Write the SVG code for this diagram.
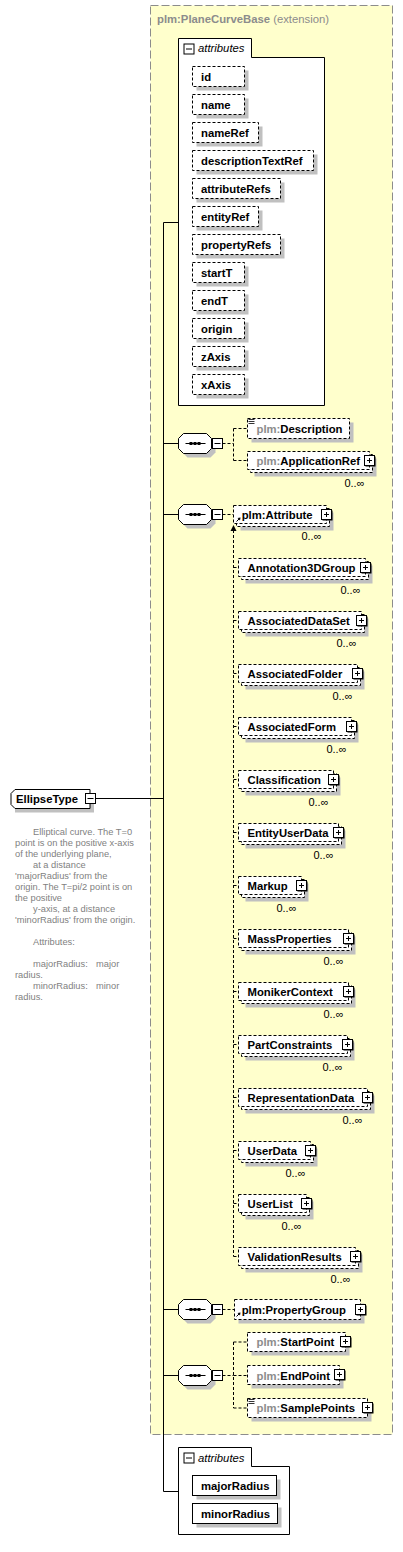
<svg xmlns="http://www.w3.org/2000/svg" xmlns:xlink="http://www.w3.org/1999/xlink" width="403" height="1552" viewBox="0 0 403 1552">
<style>
.ext{fill:#ffffcc;stroke:#8c8c8c;stroke-dasharray:8 3}
.sh{fill:#c0c0c0}
.bd{fill:#fff;stroke:#000;stroke-dasharray:3 2}
.bs{fill:#fff;stroke:#000}
.t{font-family:"Liberation Sans",Arial,sans-serif;font-weight:bold;font-size:11.3px;fill:#000}
.g{fill:#8c8c8c}
.o{font-family:"Liberation Sans",Arial,sans-serif;font-size:11px;fill:#000}
.it{font-family:"Liberation Sans",Arial,sans-serif;font-style:italic;font-size:11.3px;fill:#000}
.ann{font-family:"Liberation Sans",Arial,sans-serif;font-size:9.3px;fill:#7f7f7f}
.c{stroke:#000;fill:none}
.d{stroke:#000;fill:none;stroke-dasharray:3 2}
</style>
<defs>
<g id="plus"><rect x="1" y="1" width="10" height="10" fill="#000"/><rect x="0" y="0" width="10" height="10" fill="#fff" stroke="#000"/><path d="M2.5 5H7.5M5 2.5V7.5" stroke="#000"/></g>
<g id="minus"><rect x="0" y="0" width="10" height="10" fill="#fff" stroke="#000"/><path d="M2 5H8" stroke="#000"/></g>
<g id="seq"><polygon points="9,4 32,4 37,9 37,19 32,24 9,24 4,19 4,9" class="sh"/><polygon points="5,0 28,0 33,5 33,15 28,20 5,20 0,15 0,5" class="bs"/><path d="M7 10H27" stroke="#000"/><rect x="11" y="8.5" width="3" height="3"/><rect x="15" y="8.5" width="3" height="3"/><rect x="19" y="8.5" width="3" height="3"/></g>
<g id="doc"><path d="M1 1.5H7M1 3.5H7M1 5.5H7" stroke="#000" stroke-width="0.8"/></g>
<g id="ref"><path d="M1.5 4.5L5 1" stroke="#000"/><path d="M5.5 0.5L2.5 1L5 3.5Z" fill="#000"/></g>
</defs>

<g id="extension">
<rect x="150.5" y="5.5" width="242" height="1429" class="ext"/>
<text x="157" y="23" class="t g">plm:PlaneCurveBase <tspan font-weight="normal">(extension)</tspan></text>
</g>

<g id="connectors">
<path class="c" d="M95.5 798.5H163.5M163.5 222.5V1491.5M163.5 222.5H178.5M163.5 443.5H178.5M163.5 514.5H178.5M163.5 1309.5H178.5M163.5 1375.5H178.5M163.5 1491.5H178.5"/>
<path class="d" d="M222.5 443.5H233.5M233.5 428.5V460.5M233.5 428.5H247.5M233.5 460.5H247.5"/>
<path class="d" d="M222.5 514.5H233.5"/>
<path class="d" d="M233.5 530V1256.5"/>
<polygon points="233.5,525 230.5,531 236.5,531" fill="#000"/>
<path class="d" d="M233.5 567.5H238.5M233.5 620.5H238.5M233.5 673.5H238.5M233.5 726.5H238.5M233.5 779.5H238.5M233.5 832.5H238.5M233.5 885.5H238.5M233.5 938.5H238.5M233.5 991.5H238.5M233.5 1044.5H238.5M233.5 1097.5H238.5M233.5 1150.5H238.5M233.5 1203.5H238.5M233.5 1256.5H238.5"/>
<path class="d" d="M222.5 1309.5H234.5"/>
<path class="d" d="M222.5 1375.5H233.5M233.5 1342V1408M233.5 1342H247.5M233.5 1375.5H247.5M233.5 1408H247.5"/>
</g>

<g id="EllipseType">
<polygon points="19,793.5 94,793.5 94,812.5 15,812.5 15,797.5" class="sh"/>
<polygon points="15,789.5 90,789.5 90,808.5 15,808.5 11,804.5 11,793.5" class="bs"/>
<text x="16" y="802.5" class="t">EllipseType</text>
<use xlink:href="#minus" x="85.5" y="793.5"/>
</g>

<g id="annotation">
<text class="ann">
<tspan x="33" y="835">Elliptical curve. The T=0</tspan>
<tspan x="15" y="846">point is on the positive x-axis</tspan>
<tspan x="15" y="857">of the underlying plane,</tspan>
<tspan x="33" y="868">at a distance</tspan>
<tspan x="15" y="879">'majorRadius' from the</tspan>
<tspan x="15" y="890">origin. The T=pi/2 point is on</tspan>
<tspan x="15" y="901">the positive</tspan>
<tspan x="33" y="912">y-axis, at a distance</tspan>
<tspan x="15" y="923">'minorRadius' from the origin.</tspan>
<tspan x="33" y="945">Attributes:</tspan>
<tspan x="33" y="967">majorRadius:</tspan><tspan x="96" y="967">major</tspan>
<tspan x="15" y="978">radius.</tspan>
<tspan x="33" y="989">minorRadius:</tspan><tspan x="96" y="989">minor</tspan>
<tspan x="15" y="1000">radius.</tspan>
</text>
</g>

<g id="attributes-base">
<path d="M178.5 38.5H251.5V57.5H324.5V405.5H178.5Z" class="bs"/>
<use xlink:href="#minus" x="184" y="44"/>
<text x="198" y="52" class="it">attributes</text>
<g id="attr-id"><rect x="196.5" y="70.5" width="52" height="20" class="sh"/><rect x="192.5" y="66.5" width="52" height="20" class="bd"/><text x="201" y="80.5" class="t">id</text></g>
<g id="attr-name"><rect x="196.5" y="98.5" width="52" height="20" class="sh"/><rect x="192.5" y="94.5" width="52" height="20" class="bd"/><text x="201" y="108.5" class="t">name</text></g>
<g id="attr-nameRef"><rect x="196.5" y="126.5" width="66" height="20" class="sh"/><rect x="192.5" y="122.5" width="66" height="20" class="bd"/><text x="201" y="136.5" class="t">nameRef</text></g>
<g id="attr-descriptionTextRef"><rect x="196.5" y="154.5" width="121" height="20" class="sh"/><rect x="192.5" y="150.5" width="121" height="20" class="bd"/><text x="201" y="164.5" class="t">descriptionTextRef</text></g>
<g id="attr-attributeRefs"><rect x="196.5" y="182.5" width="88" height="20" class="sh"/><rect x="192.5" y="178.5" width="88" height="20" class="bd"/><text x="201" y="192.5" class="t">attributeRefs</text></g>
<g id="attr-entityRef"><rect x="196.5" y="210.5" width="66" height="20" class="sh"/><rect x="192.5" y="206.5" width="66" height="20" class="bd"/><text x="201" y="220.5" class="t">entityRef</text></g>
<g id="attr-propertyRefs"><rect x="196.5" y="238.5" width="88" height="20" class="sh"/><rect x="192.5" y="234.5" width="88" height="20" class="bd"/><text x="201" y="248.5" class="t">propertyRefs</text></g>
<g id="attr-startT"><rect x="196.5" y="266.5" width="52" height="20" class="sh"/><rect x="192.5" y="262.5" width="52" height="20" class="bd"/><text x="201" y="276.5" class="t">startT</text></g>
<g id="attr-endT"><rect x="196.5" y="294.5" width="52" height="20" class="sh"/><rect x="192.5" y="290.5" width="52" height="20" class="bd"/><text x="201" y="304.5" class="t">endT</text></g>
<g id="attr-origin"><rect x="196.5" y="322.5" width="52" height="20" class="sh"/><rect x="192.5" y="318.5" width="52" height="20" class="bd"/><text x="201" y="332.5" class="t">origin</text></g>
<g id="attr-zAxis"><rect x="196.5" y="350.5" width="52" height="20" class="sh"/><rect x="192.5" y="346.5" width="52" height="20" class="bd"/><text x="201" y="360.5" class="t">zAxis</text></g>
<g id="attr-xAxis"><rect x="196.5" y="378.5" width="52" height="20" class="sh"/><rect x="192.5" y="374.5" width="52" height="20" class="bd"/><text x="201" y="388.5" class="t">xAxis</text></g>
</g>

<g id="seq1"><use xlink:href="#seq" x="178.5" y="433.5"/><use xlink:href="#minus" x="212.5" y="438.5"/></g>
<g id="Description"><rect x="251.5" y="422.5" width="102" height="20" class="sh"/><rect x="247.5" y="418.5" width="102" height="20" class="bd"/><use xlink:href="#doc" x="247.5" y="418"/><text x="256.5" y="432.5" class="t"><tspan class="g">plm:</tspan>Description</text></g>
<g id="ApplicationRef"><rect x="254.5" y="458.5" width="122" height="18" class="sh"/><rect x="250.5" y="454.5" width="122" height="18" class="bd"/><rect x="247.5" y="451.5" width="122" height="18" class="bd"/><text x="256.5" y="464.5" class="t"><tspan class="g">plm:</tspan>ApplicationRef</text><use xlink:href="#plus" x="364.5" y="455.5"/><text x="364.5" y="487" class="o" text-anchor="end">0..∞</text></g>

<g id="seq2"><use xlink:href="#seq" x="178.5" y="504.5"/><use xlink:href="#minus" x="212.5" y="509.5"/></g>
<g id="Attribute"><rect x="240.5" y="512.5" width="93" height="18" class="sh"/><rect x="236.5" y="508.5" width="93" height="18" class="bd"/><rect x="233.5" y="505.5" width="93" height="18" class="bd"/><use xlink:href="#ref" x="235" y="517"/><text x="241.7" y="518.5" class="t">plm:Attribute</text><use xlink:href="#plus" x="321.5" y="509.5"/><text x="321.5" y="540" class="o" text-anchor="end">0..∞</text></g>

<g id="Annotation3DGroup"><rect x="245.5" y="565.5" width="127" height="18" class="sh"/><rect x="241.5" y="561.5" width="127" height="18" class="bd"/><rect x="238.5" y="558.5" width="127" height="18" class="bd"/><text x="247.5" y="571.5" class="t">Annotation3DGroup</text><use xlink:href="#plus" x="360.5" y="562.5"/><text x="360.5" y="593.5" class="o" text-anchor="end">0..∞</text></g>
<g id="AssociatedDataSet"><rect x="245.5" y="618.5" width="123" height="18" class="sh"/><rect x="241.5" y="614.5" width="123" height="18" class="bd"/><rect x="238.5" y="611.5" width="123" height="18" class="bd"/><text x="247.5" y="624.5" class="t">AssociatedDataSet</text><use xlink:href="#plus" x="356.5" y="615.5"/><text x="356.5" y="646.5" class="o" text-anchor="end">0..∞</text></g>
<g id="AssociatedFolder"><rect x="245.5" y="671.5" width="119" height="18" class="sh"/><rect x="241.5" y="667.5" width="119" height="18" class="bd"/><rect x="238.5" y="664.5" width="119" height="18" class="bd"/><text x="247.5" y="677.5" class="t">AssociatedFolder</text><use xlink:href="#plus" x="352.5" y="668.5"/><text x="352.5" y="699.5" class="o" text-anchor="end">0..∞</text></g>
<g id="AssociatedForm"><rect x="245.5" y="724.5" width="113" height="18" class="sh"/><rect x="241.5" y="720.5" width="113" height="18" class="bd"/><rect x="238.5" y="717.5" width="113" height="18" class="bd"/><text x="247.5" y="730.5" class="t">AssociatedForm</text><use xlink:href="#plus" x="346.5" y="721.5"/><text x="346.5" y="752.5" class="o" text-anchor="end">0..∞</text></g>
<g id="Classification"><rect x="245.5" y="777.5" width="95" height="18" class="sh"/><rect x="241.5" y="773.5" width="95" height="18" class="bd"/><rect x="238.5" y="770.5" width="95" height="18" class="bd"/><text x="247.5" y="783.5" class="t">Classification</text><use xlink:href="#plus" x="328.5" y="774.5"/><text x="328.5" y="805.5" class="o" text-anchor="end">0..∞</text></g>
<g id="EntityUserData"><rect x="245.5" y="830.5" width="100" height="18" class="sh"/><rect x="241.5" y="826.5" width="100" height="18" class="bd"/><rect x="238.5" y="823.5" width="100" height="18" class="bd"/><text x="247.5" y="836.5" class="t">EntityUserData</text><use xlink:href="#plus" x="333.5" y="827.5"/><text x="333.5" y="858.5" class="o" text-anchor="end">0..∞</text></g>
<g id="Markup"><rect x="245.5" y="883.5" width="63" height="18" class="sh"/><rect x="241.5" y="879.5" width="63" height="18" class="bd"/><rect x="238.5" y="876.5" width="63" height="18" class="bd"/><text x="247.5" y="889.5" class="t">Markup</text><use xlink:href="#plus" x="296.5" y="880.5"/><text x="296.5" y="911.5" class="o" text-anchor="end">0..∞</text></g>
<g id="MassProperties"><rect x="245.5" y="936.5" width="110" height="18" class="sh"/><rect x="241.5" y="932.5" width="110" height="18" class="bd"/><rect x="238.5" y="929.5" width="110" height="18" class="bd"/><text x="247.5" y="942.5" class="t">MassProperties</text><use xlink:href="#plus" x="343.5" y="933.5"/><text x="343.5" y="964.5" class="o" text-anchor="end">0..∞</text></g>
<g id="MonikerContext"><rect x="245.5" y="989.5" width="110" height="18" class="sh"/><rect x="241.5" y="985.5" width="110" height="18" class="bd"/><rect x="238.5" y="982.5" width="110" height="18" class="bd"/><text x="247.5" y="995.5" class="t">MonikerContext</text><use xlink:href="#plus" x="343.5" y="986.5"/><text x="343.5" y="1017.5" class="o" text-anchor="end">0..∞</text></g>
<g id="PartConstraints"><rect x="245.5" y="1042.5" width="109" height="18" class="sh"/><rect x="241.5" y="1038.5" width="109" height="18" class="bd"/><rect x="238.5" y="1035.5" width="109" height="18" class="bd"/><text x="247.5" y="1048.5" class="t">PartConstraints</text><use xlink:href="#plus" x="342.5" y="1039.5"/><text x="342.5" y="1070.5" class="o" text-anchor="end">0..∞</text></g>
<g id="RepresentationData"><rect x="245.5" y="1095.5" width="129" height="18" class="sh"/><rect x="241.5" y="1091.5" width="129" height="18" class="bd"/><rect x="238.5" y="1088.5" width="129" height="18" class="bd"/><text x="247.5" y="1101.5" class="t">RepresentationData</text><use xlink:href="#plus" x="362.5" y="1092.5"/><text x="362.5" y="1123.5" class="o" text-anchor="end">0..∞</text></g>
<g id="UserData"><rect x="245.5" y="1148.5" width="72" height="18" class="sh"/><rect x="241.5" y="1144.5" width="72" height="18" class="bd"/><rect x="238.5" y="1141.5" width="72" height="18" class="bd"/><text x="247.5" y="1154.5" class="t">UserData</text><use xlink:href="#plus" x="305.5" y="1145.5"/><text x="305.5" y="1176.5" class="o" text-anchor="end">0..∞</text></g>
<g id="UserList"><rect x="245.5" y="1201.5" width="68" height="18" class="sh"/><rect x="241.5" y="1197.5" width="68" height="18" class="bd"/><rect x="238.5" y="1194.5" width="68" height="18" class="bd"/><text x="247.5" y="1207.5" class="t">UserList</text><use xlink:href="#plus" x="301.5" y="1198.5"/><text x="301.5" y="1229.5" class="o" text-anchor="end">0..∞</text></g>
<g id="ValidationResults"><rect x="245.5" y="1254.5" width="117" height="18" class="sh"/><rect x="241.5" y="1250.5" width="117" height="18" class="bd"/><rect x="238.5" y="1247.5" width="117" height="18" class="bd"/><text x="247.5" y="1260.5" class="t">ValidationResults</text><use xlink:href="#plus" x="350.5" y="1251.5"/><text x="350.5" y="1282.5" class="o" text-anchor="end">0..∞</text></g>

<g id="seq3"><use xlink:href="#seq" x="178.5" y="1299.5"/><use xlink:href="#minus" x="212.5" y="1304.5"/></g>
<g id="PropertyGroup"><rect x="238.5" y="1303.5" width="126" height="20" class="sh"/><rect x="234.5" y="1299.5" width="126" height="20" class="bd"/><use xlink:href="#ref" x="235" y="1312"/><text x="241.7" y="1313.5" class="t">plm:PropertyGroup</text><use xlink:href="#plus" x="355.5" y="1304.5"/></g>

<g id="seq4"><use xlink:href="#seq" x="178.5" y="1365.5"/><use xlink:href="#minus" x="212.5" y="1370.5"/></g>
<g id="StartPoint"><rect x="251.5" y="1336.5" width="98" height="19" class="sh"/><rect x="247.5" y="1332.5" width="98" height="19" class="bd"/><text x="256.5" y="1346" class="t"><tspan class="g">plm:</tspan>StartPoint</text><use xlink:href="#plus" x="340.5" y="1336.5"/></g>
<g id="EndPoint"><rect x="251.5" y="1369.5" width="92" height="19" class="sh"/><rect x="247.5" y="1365.5" width="92" height="19" class="bd"/><text x="256.5" y="1379.5" class="t"><tspan class="g">plm:</tspan>EndPoint</text><use xlink:href="#plus" x="334.5" y="1369.5"/></g>
<g id="SamplePoints"><rect x="251.5" y="1402.5" width="120" height="19" class="sh"/><rect x="247.5" y="1398.5" width="120" height="19" class="bd"/><use xlink:href="#doc" x="247.5" y="1398"/><text x="256.5" y="1412" class="t"><tspan class="g">plm:</tspan>SamplePoints</text><use xlink:href="#plus" x="362.5" y="1402.5"/></g>

<g id="attributes-ellipse">
<path d="M178.5 1447.5H251.5V1466.5H289.5V1534.5H178.5Z" class="bs"/>
<use xlink:href="#minus" x="184" y="1453"/>
<text x="198" y="1462" class="it">attributes</text>
<g id="attr-majorRadius"><rect x="196.5" y="1479.5" width="84" height="20" class="sh"/><rect x="192.5" y="1475.5" width="84" height="20" class="bs"/><text x="201" y="1489.5" class="t">majorRadius</text></g>
<g id="attr-minorRadius"><rect x="196.5" y="1507.5" width="85" height="20" class="sh"/><rect x="192.5" y="1503.5" width="85" height="20" class="bs"/><text x="201" y="1517.5" class="t">minorRadius</text></g>
</g>
</svg>
